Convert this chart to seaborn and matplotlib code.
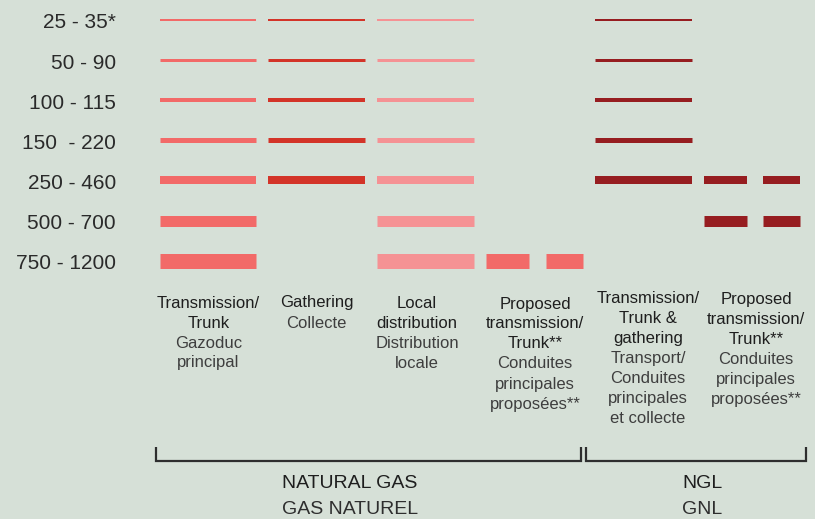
import numpy as np
import pandas as pd
import matplotlib
matplotlib.use("Agg")
import matplotlib.pyplot as plt
import matplotlib.transforms as mtransforms
import seaborn as sns

# ---------------- data ----------------
size_labels = ["25 - 35*", "50 - 90", "100 - 115", "150  - 220", "250 - 460", "500 - 700", "750 - 1200"]
line_px = [2, 3, 4, 5, 8, 11, 15]          # drawn thickness per size class (px)

categories = ["gas_trunk", "gas_gathering", "gas_local", "gas_proposed", "ngl_trunk", "ngl_proposed"]
cat_rows = {
    "gas_trunk":     [0, 1, 2, 3, 4, 5, 6],
    "gas_gathering": [0, 1, 2, 3, 4],
    "gas_local":     [0, 1, 2, 3, 4, 5, 6],
    "gas_proposed":  [6],
    "ngl_trunk":     [0, 1, 2, 3, 4],
    "ngl_proposed":  [4, 5],
}
cat_dashed = {"gas_trunk": False, "gas_gathering": False, "gas_local": False,
              "gas_proposed": True, "ngl_trunk": False, "ngl_proposed": True}
cat_colors = {"gas_trunk": "#F26A68", "gas_gathering": "#D33428", "gas_local": "#F59294",
              "gas_proposed": "#F26A68", "ngl_trunk": "#961D20", "ngl_proposed": "#961D20"}

label_en = [["Transmission/", "Trunk"], ["Gathering"], ["Local", "distribution"],
            ["Proposed", "transmission/", "Trunk**"],
            ["Transmission/", "Trunk &", "gathering"],
            ["Proposed", "transmission/", "Trunk**"]]
label_fr = [["Gazoduc", "principal"], ["Collecte"], ["Distribution", "locale"],
            ["Conduites", "principales", "proposées**"],
            ["Transport/", "Conduites", "principales", "et collecte"],
            ["Conduites", "principales", "proposées**"]]

group_en = ["NATURAL GAS", "NGL"]
group_fr = ["GAS NATUREL", "GNL"]

# ---------------- layout (pixels) ----------------
W, H = 815, 519
BG = "#D6E0D7"
COL0_PX, COL_STEP_PX = 208.0, 108.8
ROW0_PX, ROW_STEP_PX = 20.0, 40.1
HALF = 0.445                          # half bar width in column units
DASH_SEGS = [(-HALF, -0.05), (0.105, HALF)]
label_x_px = [208.5, 316.5, 417, 535, 648, 756]
label_y0_px = [301.5, 301.5, 301.5, 302.5, 297, 298]
LINE_STEP = 20

# build long-form table of segment endpoints
recs = []
seg = 0
for ci, cat in enumerate(categories):
    for r in cat_rows[cat]:
        parts = DASH_SEGS if cat_dashed[cat] else [(-HALF, HALF)]
        for a, b in parts:
            recs.append(dict(seg=seg, cat=cat, row=r, x=ci + a, y=r))
            recs.append(dict(seg=seg, cat=cat, row=r, x=ci + b, y=r))
            seg += 1
df = pd.DataFrame(recs)

sns.set_theme(style="white", rc={"axes.facecolor": BG, "figure.facecolor": BG})
plt.rcParams["font.family"] = ["Liberation Sans", "DejaVu Sans"]

fig = plt.figure(figsize=(W / 100, H / 100), dpi=100)
ax = fig.add_axes([0, 0, 1, 1])
ax.set_facecolor(BG)

sns.lineplot(data=df, x="x", y="y", units="seg", estimator=None, sort=False,
             hue="cat", palette=cat_colors,
             size="row", sizes={i: line_px[i] * 0.72 for i in range(len(line_px))},
             legend=False, ax=ax, solid_capstyle="butt")

ax.set_xlim(-COL0_PX / COL_STEP_PX, (W - COL0_PX) / COL_STEP_PX)
ax.set_ylim((H - ROW0_PX) / ROW_STEP_PX, -ROW0_PX / ROW_STEP_PX)
ax.axis("off")

px = mtransforms.Affine2D().scale(1 / W, -1 / H).translate(0, 1) + fig.transFigure

# row labels
for i, lab in enumerate(size_labels):
    ax.text(116, ROW0_PX + ROW_STEP_PX * i + 1, lab, transform=px, ha="right",
            va="center_baseline", fontsize=15, color="#2a2a2a")

# column labels
for ci in range(len(categories)):
    lines = [(t, "#1e1e1e") for t in label_en[ci]] + [(t, "#3e3e3e") for t in label_fr[ci]]
    for k, (t, c) in enumerate(lines):
        ax.text(label_x_px[ci], label_y0_px[ci] + LINE_STEP * k, t, transform=px,
                ha="center", va="center_baseline", fontsize=12, color=c)

# brackets
for x0, x1 in [(156, 581), (586, 806)]:
    ax.plot([x0, x0, x1, x1], [447, 461, 461, 447], transform=px, color="#2e2e2e",
            lw=1.6, solid_joinstyle="miter", solid_capstyle="butt")

for (x, en, fr) in [(350, group_en[0], group_fr[0]), (702, group_en[1], group_fr[1])]:
    ax.text(x, 482, en, transform=px, ha="center", va="center_baseline", fontsize=14, color="#1e1e1e")
    ax.text(x, 508, fr, transform=px, ha="center", va="center_baseline", fontsize=14, color="#2e2e2e")

fig.savefig("out.png", dpi=100, facecolor=BG)
